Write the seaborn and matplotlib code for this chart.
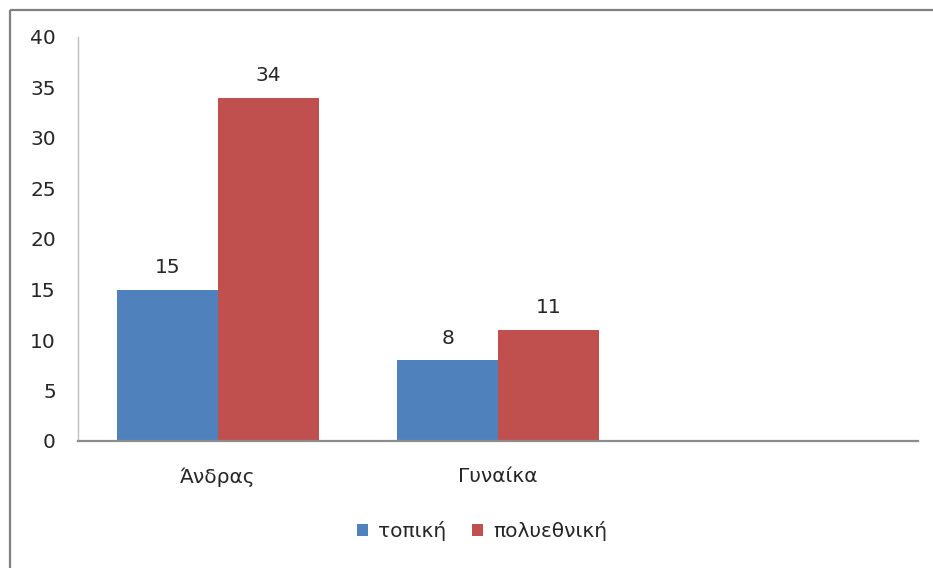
import matplotlib
matplotlib.use("Agg")
import matplotlib.pyplot as plt
from matplotlib.lines import Line2D
from matplotlib.patches import Patch
import seaborn as sns
import pandas as pd

categories = ["Άνδρας", "Γυναίκα"]
axis_slots = ["Άνδρας", "Γυναίκα", ""]
series_names = ["τοπική", "πολυεθνική"]
topiki = [15, 8]
polyethniki = [34, 11]
y_ticks = [0, 5, 10, 15, 20, 25, 30, 35, 40]

colors = ["#4F81BD", "#C0504D"]
text_color = "#262626"
fs = 14.5

sns.set_theme(style="white")
plt.rcParams["font.family"] = ["DejaVu Sans"]

df = pd.DataFrame({
    "cat": categories * 2,
    "series": [series_names[0]] * len(categories) + [series_names[1]] * len(categories),
    "value": topiki + polyethniki,
})

fig = plt.figure(figsize=(9.33, 5.68), dpi=100)
ax = fig.add_axes([78 / 933, 1 - 441 / 568, (918 - 78) / 933, (441 - 37) / 568])

sns.barplot(data=df, x="cat", y="value", hue="series", order=axis_slots,
            hue_order=series_names, palette=colors, width=0.72, gap=0,
            saturation=1, legend=False, ax=ax, errorbar=None, linewidth=0)

for cont in ax.containers:
    ax.bar_label(cont, fmt="%g", padding=9, fontsize=fs, color=text_color)

ax.set_xlim(-0.5, 2.5)
ax.set_ylim(0, 40)
ax.set_yticks(y_ticks)
ax.set_xlabel("")
ax.set_ylabel("")
ax.tick_params(axis="y", length=0, pad=16, labelsize=fs, labelcolor=text_color)
ax.tick_params(axis="x", length=0, pad=19, labelsize=fs, labelcolor=text_color)
ax.grid(False)
for s in ["top", "right"]:
    ax.spines[s].set_visible(False)
ax.spines["left"].set_color("#BFBFBF")
ax.spines["left"].set_linewidth(1.0)
ax.spines["bottom"].set_color("#8C8C8C")
ax.spines["bottom"].set_linewidth(1.6)

handles = [Patch(facecolor=c, edgecolor="none") for c in colors]
fig.legend(handles, series_names, loc="center", bbox_to_anchor=(482 / 933, 1 - 531 / 568),
           ncol=2, frameon=False, fontsize=fs, handlelength=0.55, handleheight=0.55,
           handletextpad=0.5, columnspacing=1.3, labelcolor=text_color)

# outer frame (top and left edges)
fig.add_artist(Line2D([10 / 933, 1.02], [1 - 10 / 568, 1 - 10 / 568], transform=fig.transFigure,
                      color="#808080", linewidth=1.6, solid_capstyle="butt"))
fig.add_artist(Line2D([10 / 933, 10 / 933], [1 - 10 / 568, -0.02], transform=fig.transFigure,
                      color="#808080", linewidth=1.6, solid_capstyle="butt"))

fig.savefig("out.png", dpi=100, facecolor="white")
